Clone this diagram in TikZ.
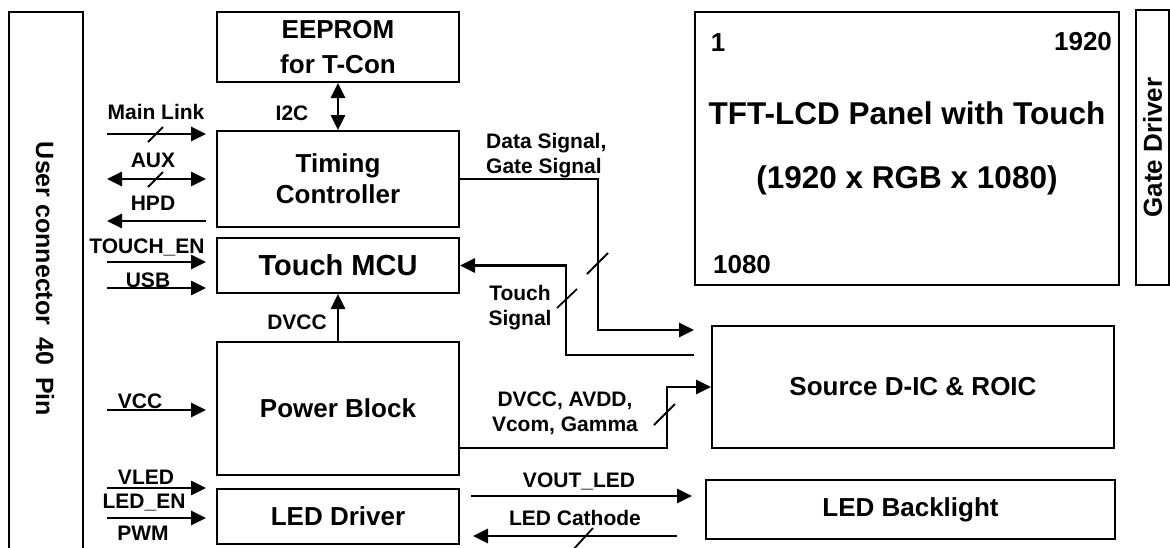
\documentclass[tikz,border=0pt]{standalone}
\usepackage{fontspec}
\setmainfont{Liberation Sans}
\usetikzlibrary{positioning, arrows.meta, calc}

\begin{document}
\begin{tikzpicture}[x=1pt, y=-1pt,
      blockbox/.style 2 args={draw, line width=2pt, minimum width=#1, minimum height=#2, inner sep=0pt, align=center, font=\fontsize{26}{31}\selectfont\bfseries},
      siglabel/.style={inner sep=0pt, align=center, font=\fontsize{21}{25}\selectfont\bfseries},
      sigarrow/.style={-{Triangle[length=15pt,width=14pt]}, line width=2.9pt},
      sigboth/.style={{Triangle[length=15pt,width=14pt]}-{Triangle[length=15pt,width=14pt]}, line width=2.9pt},
      busmark/.style={line width=1.8pt}
    ]
      \useasboundingbox (0,0) rectangle (1170,547);

      % blocks
      \node[blockbox={74pt}{560pt}] (ucon) at (46,292) {};
      \node[font=\fontsize{25}{30}\selectfont\bfseries, rotate=-90, inner sep=0pt] (ucontext) at (45,279) {User connector\hspace{12pt}40\hspace{12pt}Pin};
      \node[blockbox={242pt}{70pt}] (eeprom) at (338,47) {EEPROM\\[4pt]for T-Con};
      \node[blockbox={242pt}{96pt}] (tcon) at (338,179) {Timing\\Controller};
      \node[blockbox={242pt}{55pt}, font=\fontsize{29}{31}\selectfont\bfseries] (tmcu) at (338,265.5) {Touch MCU};
      \node[blockbox={242pt}{133pt}] (power) at (338,408.5) {Power Block};
      \node[blockbox={242pt}{55pt}] (ledd) at (338,516.5) {LED Driver};
      \node[blockbox={424pt}{273pt}, font=\fontsize{31.5}{64}\selectfont\bfseries] (panel) at (907,148.5) {TFT-LCD Panel with Touch\\(1920 x RGB x 1080)};
      \node[blockbox={275pt}{33pt}, rotate=90] (gated) at (1152.5,147.5) {Gate Driver};
      \node[blockbox={402pt}{122pt}] (source) at (913,387) {Source D-IC \& ROIC};
      \node[blockbox={409pt}{59pt}] (backlight) at (910.5,509.5) {LED Backlight};

      % pixel numbers
      \node[font=\fontsize{26}{30}\selectfont\bfseries, inner sep=0pt] (pxfirst) at (718,43) {1};
      \node[font=\fontsize{26}{30}\selectfont\bfseries, inner sep=0pt] (pxcol) at (1083,42) {1920};
      \node[font=\fontsize{26}{30}\selectfont\bfseries, inner sep=0pt] (pxrow) at (742,265) {1080};

      % inputs from the connector
      \coordinate (inmain) at (107,134);
      \coordinate (inaux) at (107,179);
      \coordinate (inhpd) at (107,221);
      \coordinate (intouch) at (107,262);
      \coordinate (inusb) at (107,288);
      \coordinate (invcc) at (107,410);
      \coordinate (invled) at (107,488);
      \coordinate (inpwm) at (107,518);

      \draw[sigarrow, shorten >=10pt] (inmain) -- (inmain -| tcon.west);
      \draw[sigboth, shorten >=10pt] (inaux) -- (inaux -| tcon.west);
      \draw[sigarrow, shorten <=10pt] (inhpd -| tcon.west) -- (inhpd);
      \draw[sigarrow, shorten >=10pt] (intouch) -- (intouch -| tmcu.west);
      \draw[sigarrow, shorten >=10pt] (inusb) -- (inusb -| tmcu.west);
      \draw[sigarrow, shorten >=10pt] (invcc) -- (invcc -| power.west);
      \draw[sigarrow, shorten >=10pt] (invled) -- (invled -| ledd.west);
      \draw[sigarrow, shorten >=10pt] (inpwm) -- (inpwm -| ledd.west);
      \draw[busmark] (148,142) -- (163,127);
      \draw[busmark] (148,187) -- (163,172);

      \node[siglabel] (lmain) at (156,112) {Main Link};
      \node[siglabel] (laux) at (153,160) {AUX};
      \node[siglabel] (lhpd) at (153,203) {HPD};
      \node[siglabel] (ltouch) at (147,247) {TOUCH\_EN};
      \node[siglabel] (lusb) at (148,280) {USB};
      \node[siglabel] (lvcc) at (140,401) {VCC};
      \node[siglabel] (lvled) at (146,477) {VLED};
      \node[siglabel] (lleden) at (144,503) {LED\_EN};
      \node[siglabel] (lpwm) at (143,533) {PWM};

      % internal links
      \draw[sigboth] (eeprom) -- (tcon);
      \node[siglabel] (li2c) at (292,113) {I2C};
      \draw[sigarrow] (power) -- (tmcu);
      \node[siglabel] (ldvcc) at (297,322) {DVCC};

      \draw[sigarrow] (tcon.east) -- ++(138,0) |- ([xshift=-17pt,yshift=-5pt]source.north west);
      \draw[busmark] (587,274) -- (608,253);
      \node[siglabel, align=left, anchor=west] (ldata) at (486,156) {Data Signal,\\Gate Signal};

      \draw[sigarrow] ([xshift=-17pt,yshift=-30pt]source.north west) -- ++(-128,0) |- (tmcu.east);
      \draw[busmark] (557,308) -- (577,289);
      \node[siglabel] (ltsig) at (520,308) {Touch\\Signal};

      \draw[sigarrow] ([yshift=-39.5pt]power.east) -- ++(207,0) |- (source.west);
      \draw[busmark] (654,425) -- (675,404);
      \node[siglabel] (lpwr) at (565,413) {DVCC, AVDD,\\Vcom, Gamma};

      \draw[sigarrow] ($(ledd.north east)+(11,8)$) -- ($(backlight.north west)+(-13,17)$);
      \node[siglabel] (lvout) at (579,481) {VOUT\_LED};
      \draw[sigarrow] ($(backlight.north west)+(-28,57)$) -- ($(ledd.north east)+(13,48)$);
      \draw[busmark] (571,552) -- (593,528);
      \node[siglabel] (lcath) at (575,518) {LED Cathode};
    \end{tikzpicture}
\end{document}
